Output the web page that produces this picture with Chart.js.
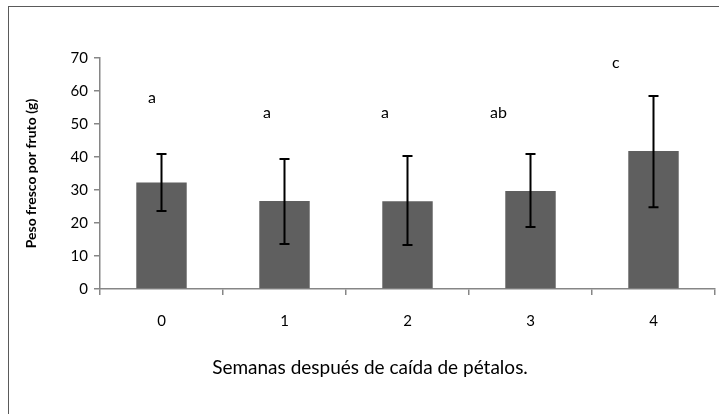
<!DOCTYPE html>
<html>
<head>
<meta charset="utf-8">
<script src="https://cdn.jsdelivr.net/npm/chart.js@4"></script>
<style>
  html, body { margin: 0; padding: 0; background: #fff; }
  #wrap { position: relative; width: 719px; height: 414px; }
  #frame { position: absolute; left: 8px; top: 6px; width: 720px; height: 420px; border: 1.5px solid #5a5a5a; }
  canvas { position: absolute; left: 0; top: 0; }
</style>
</head>
<body>
<div id="wrap">
  <div id="frame"></div>
  <canvas id="chart" width="719" height="414"></canvas>
</div>
<script>
// datos
const semanas = ['0', '1', '2', '3', '4'];
const pesoMedio = [32.3, 26.7, 26.6, 29.7, 41.8];
const errorInf = [23.6, 13.6, 13.3, 18.8, 24.8];
const errorSup = [40.9, 39.4, 40.3, 40.9, 58.5];
const letras = ['a', 'a', 'a', 'ab', 'c'];
const alturaLetra = [57.9, 53.3, 53.3, 53.3, 68.5];

const FONT = 'Lato, "Open Sans", sans-serif';
const tituloX = 'Semanas después de caída de pétalos.';

// barras de error
const errorBars = {
  id: 'errorBars',
  afterDatasetsDraw(chart) {
    const ctx = chart.ctx;
    const y = chart.scales.y;
    const meta = chart.getDatasetMeta(0);
    ctx.save();
    ctx.strokeStyle = '#000';
    ctx.lineWidth = 2;
    meta.data.forEach((bar, i) => {
      const top = y.getPixelForValue(errorSup[i]);
      const bot = y.getPixelForValue(errorInf[i]);
      ctx.beginPath();
      ctx.moveTo(bar.x, top);
      ctx.lineTo(bar.x, bot);
      ctx.moveTo(bar.x - 5, top);
      ctx.lineTo(bar.x + 5, top);
      ctx.moveTo(bar.x - 5, bot);
      ctx.lineTo(bar.x + 5, bot);
      ctx.stroke();
    });
    ctx.restore();
  }
};

// letras de significancia y titulo del eje x
const offsets = [-13.5, -21.5, -26.5, -40.5, -41.5];
const textos = {
  id: 'textos',
  afterDatasetsDraw(chart) {
    const ctx = chart.ctx;
    const y = chart.scales.y;
    const area = chart.chartArea;
    const meta = chart.getDatasetMeta(0);
    ctx.save();
    ctx.fillStyle = '#000';
    ctx.font = '16px ' + FONT;
    ctx.textAlign = 'left';
    ctx.textBaseline = 'middle';
    meta.data.forEach((bar, i) => {
      ctx.fillText(letras[i], bar.x + offsets[i], y.getPixelForValue(alturaLetra[i]));
    });
    ctx.font = '19px ' + FONT;
    ctx.textAlign = 'center';
    ctx.fillText(tituloX, area.left + 270, 368);
    ctx.restore();
  }
};

new Chart(document.getElementById('chart'), {
  type: 'bar',
  data: {
    labels: semanas,
    datasets: [{
      data: pesoMedio,
      backgroundColor: '#5f5f5f',
      barPercentage: 0.41,
      categoryPercentage: 1
    }]
  },
  options: {
    responsive: false,
    animation: false,
    layout: { padding: { left: 8, right: 4, top: 58, bottom: 0 } },
    plugins: { legend: { display: false }, tooltip: { enabled: false } },
    scales: {
      x: {
        grid: { drawOnChartArea: false, tickLength: 6, color: '#868686', lineWidth: 1.5 },
        border: { color: '#868686', width: 1.5 },
        ticks: { color: '#000', font: { family: FONT, size: 15 }, padding: 17 },
        afterFit(scale) { scale.height = 125; }
      },
      y: {
        min: 0,
        max: 70,
        ticks: { stepSize: 10, color: '#000', font: { family: FONT, size: 15 }, padding: 6 },
        grid: { drawOnChartArea: false, tickLength: 6, color: '#868686', lineWidth: 1.5 },
        border: { color: '#868686', width: 1.5 },
        title: {
          display: true,
          text: 'Peso fresco por fruto (g)',
          color: '#000',
          font: { family: FONT, size: 14, weight: 'bold' },
          padding: { top: 15, bottom: 0 }
        },
        afterFit(scale) { scale.width = 92; }
      }
    }
  },
  plugins: [errorBars, textos]
});
</script>
</body>
</html>
